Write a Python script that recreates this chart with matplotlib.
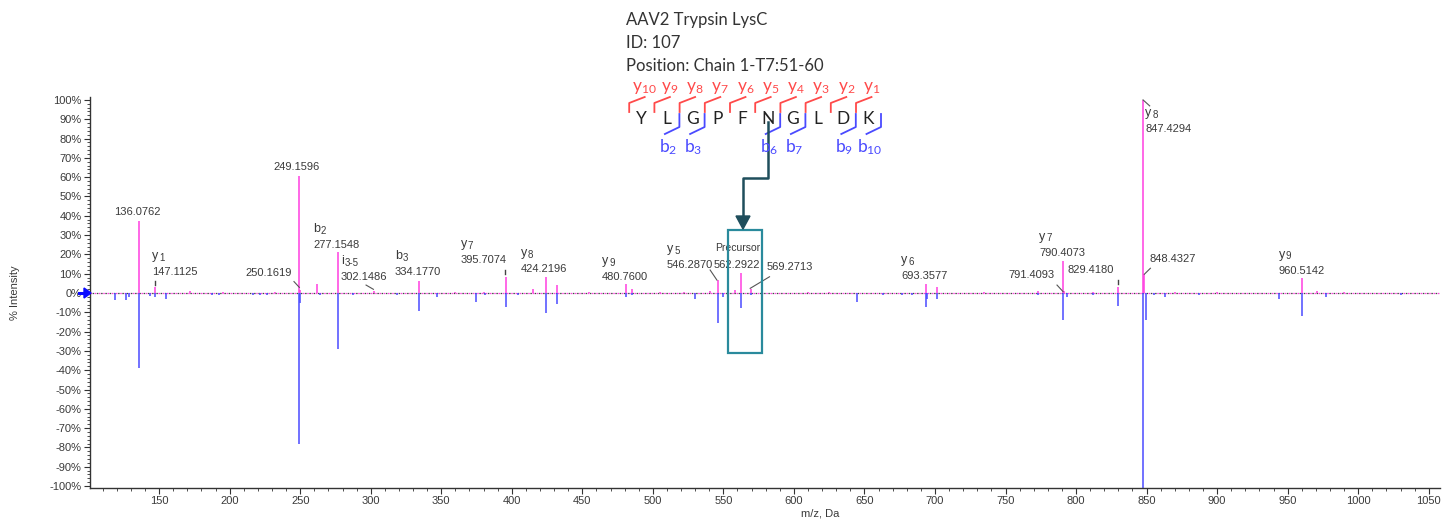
import matplotlib
matplotlib.use("Agg")
import matplotlib.pyplot as plt
from matplotlib.patches import Rectangle, Polygon
from matplotlib.ticker import MultipleLocator, FuncFormatter

plt.rcParams["font.family"] = ["Liberation Sans", "DejaVu Sans"]
plt.rcParams["mathtext.fontset"] = "custom"
plt.rcParams["mathtext.rm"] = "Lato"

# ---- data ----
title_lines = ["AAV2 Trypsin LysC", "ID: 107", "Position: Chain 1-T7:51-60"]
peptide = "YLGPFNGLDK"
b_ions = [2, 3, 6, 7, 9, 10]

# positive (magenta) trace: m/z and % intensity
pos_mz = [136.0762, 147.1125, 171.9, 195.0, 232.0, 249.1596, 250.1619, 261.7,
          277.1548, 302.1486, 334.1770, 359.8, 380.0, 395.7074, 415.1, 424.2196,
          431.9, 455.0, 480.7600, 485.1, 505.0, 522.0, 540.7, 546.2870, 558.4,
          562.2922, 569.2713, 610.0, 625.0, 693.3577, 701.4, 735.0, 773.3,
          790.4073, 791.4093, 812.3, 829.4180, 847.4294, 848.4327, 870.0, 900.0,
          960.5142, 970.9, 990.0]
pos_int = [37.5, 3.0, 0.8, 0.6, 0.5, 60.5, 1.5, 4.7,
           21.0, 1.0, 6.0, 0.6, 0.5, 8.2, 2.2, 8.3,
           4.0, 0.6, 4.6, 2.0, 0.5, 0.5, 1.0, 6.8, 1.8,
           10.2, 2.2, 0.5, 0.6, 4.7, 3.0, 0.5, 0.8,
           16.6, 1.2, 0.6, 3.0, 100.0, 10.0, 0.5, 0.5,
           7.8, 1.0, 0.5]

# negative (blue) mirror trace
neg_mz = [118.7, 126.3, 128.6, 136.0762, 143.5, 147.1125, 154.8, 187.2, 192.4,
          216.5, 221.5, 226.5, 249.1596, 250.1619, 264.1, 277.1548, 287.5, 318.4,
          334.1770, 346.8, 374.5, 381.1, 395.7074, 404.5, 424.2196, 431.9,
          480.7600, 485.1, 530.0, 546.2870, 549.9, 562.2922, 569.2713, 577.3,
          644.7, 663.0, 676.6, 683.7, 693.3577, 694.6, 701.4, 773.3, 790.4073,
          793.6, 812.3, 829.4180, 847.4294, 849.5, 855.0, 863.3, 887.4, 943.7,
          960.5142, 977.5, 1030.0]
neg_int = [-3.5, -3.5, -2.0, -39.0, -1.5, -2.0, -3.0, -1.0, -1.0,
           -1.2, -1.0, -1.0, -78.0, -5.0, -1.0, -29.0, -1.0, -1.0,
           -9.5, -2.0, -4.5, -1.0, -7.5, -1.0, -10.5, -5.5,
           -2.0, -1.0, -3.0, -15.5, -2.0, -8.0, -1.0, -1.0,
           -4.5, -1.0, -1.0, -1.0, -7.5, -3.0, -3.0, -1.0, -14.0,
           -2.0, -1.0, -7.0, -101.0, -14.0, -1.0, -2.0, -1.0, -3.0,
           -12.0, -2.0, -1.0]

label_values = ["136.0762", "147.1125", "249.1596", "250.1619", "277.1548",
                "302.1486", "334.1770", "395.7074", "424.2196", "480.7600",
                "546.2870", "562.2922", "569.2713", "693.3577", "790.4073",
                "791.4093", "829.4180", "848.4327", "847.4294", "960.5142"]
label_ions = [None, ("y", "1"), None, None, ("b", "2"),
              ("i", "3-5"), ("b", "3"), ("y", "7"), ("y", "8"), ("y", "9"),
              ("y", "5"), None, None, ("y", "6"), ("y", "7"),
              None, None, None, ("y", "8"), ("y", "9")]

# ---- layout (label anchors in m/z, %) ----
label_pos = [(134.5, 41.8, "center"), (144.7, 10.7, "left"), (247.2, 65.1, "center"),
             (244.0, 10.2, "right"), (259.3, 24.9, "left"), (278.7, 8.4, "left"),
             (317.2, 10.9, "left"), (363.8, 17.1, "left"), (406.4, 12.3, "left"),
             (463.8, 8.4, "left"), (510.0, 14.5, "left"), (542.8, 14.5, "left"),
             (580.9, 13.5, "left"), (676.1, 8.8, "left"), (774.0, 20.9, "left"),
             (784.8, 9.3, "right"), (793.6, 11.9, "left"), (852.0, 17.5, "left"),
             (849.2, 84.8, "left"), (943.7, 11.6, "left")]
leaders = [(245.6, 5.9, 249.4, 2.9), (296.7, 4.1, 301.9, 1.9), (540.6, 11.9, 545.4, 6.7),
           (582.7, 8.4, 569.0, 2.4), (786.5, 4.1, 790.8, 0.7), (852.7, 12.8, 848.4, 9.7),
           (847.5, 100.0, 852.2, 96.9)]
tick_marks = [(146.9, 5.2), (395.4, 11.0), (829.8, 5.9)]

MAGENTA = "#ff3fe0"
BLUE = "#4a4aff"
TEXT = "#3a3a3a"
RED = "#ff4a4a"
SEQBLUE = "#4a4aff"
TEAL = "#2a8a9c"
ARROW = "#1f4e5c"

fig = plt.figure(figsize=(14.42, 5.2), dpi=100)
ax = fig.add_axes([90 / 1442, 1 - 488 / 520, 1350 / 1442, 391 / 520])
ax.set_xlim(101, 1058)
ax.set_ylim(-101, 101.5)

ax.axhline(0, color=MAGENTA, lw=0.9, ls=(0, (1.2, 2.2)), zorder=1)
ax.axhline(0, color="#444444", lw=0.9, ls=(1.7, (1.2, 2.2)), zorder=1)
ax.vlines(pos_mz, 0, pos_int, colors=MAGENTA, lw=1.1, zorder=2)
ax.vlines(neg_mz, 0, neg_int, colors=BLUE, lw=1.1, zorder=2)

tfont = dict(fontsize=8, color=TEXT)
for val, ion, (x, y, ha) in zip(label_values, label_ions, label_pos):
    ax.text(x, y, val, ha=ha, va="center", **tfont)
    if ion:
        ax.text(x, y + 8.2, ion[0], ha="left", va="center", fontsize=9, color=TEXT)
        ax.annotate(ion[1], (x, y + 8.2), xytext=(5.2 if ion[0] != "i" else 2.6, -1.2),
                    textcoords="offset points", ha="left", va="center",
                    fontsize=7, color=TEXT)
ax.text(544.2, 23.2, "Precursor", ha="left", va="center", fontsize=7.5, color=TEXT)
for x0, y0, x1, y1 in leaders:
    ax.plot([x0, x1], [y0, y1], color="#555555", lw=0.8)
for x, y in tick_marks:
    ax.plot([x, x], [y - 1.0, y + 1.0], color="#444444", lw=1.0)

ax.add_patch(Rectangle((553.5, -31.3), 24.0, 64.0, fill=False,
                       edgecolor=TEAL, lw=1.6, zorder=3))

for s in ["top", "right"]:
    ax.spines[s].set_visible(False)
for s in ["left", "bottom"]:
    ax.spines[s].set_color("#333333")
    ax.spines[s].set_linewidth(1.0)
ax.set_xticks(list(range(150, 1051, 50)))
ax.xaxis.set_minor_locator(MultipleLocator(10))
ax.yaxis.set_major_locator(MultipleLocator(10))
ax.yaxis.set_minor_locator(MultipleLocator(2))
ax.yaxis.set_major_formatter(FuncFormatter(lambda v, p: f"{int(round(v))}%"))
ax.tick_params(which="major", length=4, width=0.8, color="#333333",
               labelsize=8, labelcolor=TEXT, pad=2)
ax.tick_params(which="minor", length=2, width=0.6, color="#333333")
ax.set_xlim(101, 1058)

fig.text(15 / 1442, 1 - 293 / 520, "% Intensity", rotation=90, ha="center",
         va="center", fontsize=8, color=TEXT)
fig.text(820 / 1442, 1 - 513 / 520, "m/z, Da", ha="center", va="center",
         fontsize=8, color=TEXT)

# ---- overlay in pixel coordinates for the peptide map ----
ov = fig.add_axes([0, 0, 1, 1], zorder=5)
ov.set_xlim(0, 1442)
ov.set_ylim(520, 0)
ov.axis("off")

hfont = ["Lato", "DejaVu Sans"]
for i, line in enumerate(title_lines):
    ov.text(626, 20 + i * 23, line, ha="left", va="center", fontsize=12,
            color="#333333", family=hfont)

x0, dx = 641.7, 25.2
n = len(peptide)
for i, aa in enumerate(peptide):
    cx = x0 + i * dx
    ov.text(cx, 118.5, aa, ha="center", va="center", fontsize=12.5,
            color="#222222", family=hfont)
    ov.plot([cx - 12.5, cx - 12.5, cx + 3], [112, 103, 97], color=RED, lw=1.3)
    ov.text(cx + 3, 88, "y" + r"$\mathregular{_{" + str(n - i) + "}}$",
            ha="center", va="center", fontsize=12.5, color=RED, family=hfont)
for k in b_ions:
    cx = x0 + (k - 1) * dx
    ov.plot([cx + 12.5, cx + 12.5, cx - 2], [114, 127, 134], color=SEQBLUE, lw=1.3)
    ov.text(cx + 1, 147, "b" + r"$\mathregular{_{" + str(k) + "}}$",
            ha="center", va="center", fontsize=12.5, color=SEQBLUE, family=hfont)

nx = x0 + peptide.index("N") * dx
ov.plot([nx, nx, 743, 743], [122, 178, 178, 217], color=ARROW, lw=1.8)
ov.add_patch(Polygon([(736, 216), (750, 216), (743, 229)], closed=True,
                     color=ARROW))

ov.plot([79, 85], [293, 293], color="#0a0aff", lw=2.2)
ov.add_patch(Polygon([(84, 288), (84, 298), (91, 293)], closed=True, color="#0a0aff"))

fig.savefig("out.png", dpi=100)
